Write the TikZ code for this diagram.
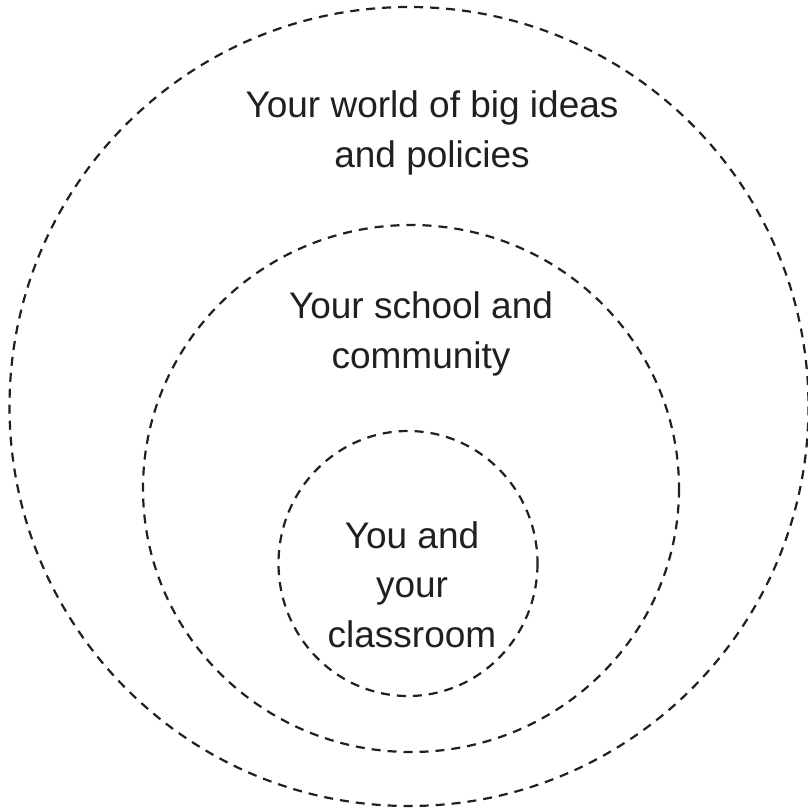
\documentclass[tikz,border=0pt]{standalone}
\usepackage{fontspec}
\setmainfont{Liberation Sans}
\definecolor{ink}{HTML}{231F20}
\begin{document}
\begin{tikzpicture}[x=1pt,y=-1pt,
  ring/.style={draw=ink,line width=2.2pt,dash pattern=on 9pt off 7pt},
  label/.style={text=ink,align=center,anchor=base,inner sep=0pt,
    font=\fontsize{37}{49.5}\selectfont}]
\useasboundingbox (0,0) rectangle (808,811);
\draw[ring] (409,406.5) ellipse [x radius=399.5,y radius=399.5];
\draw[ring] (411,488.5) ellipse [x radius=268,y radius=263.5];
\draw[ring] (408,563.5) ellipse [x radius=129.5,y radius=132.5];
\node[label] (world) at (432,167) {Your world of big ideas\\and policies};
\node[label] (school) at (421,368) {Your school and\\community};
\node[label] (you) at (412,647) {You and\\your\\classroom};
\end{tikzpicture}
\end{document}
